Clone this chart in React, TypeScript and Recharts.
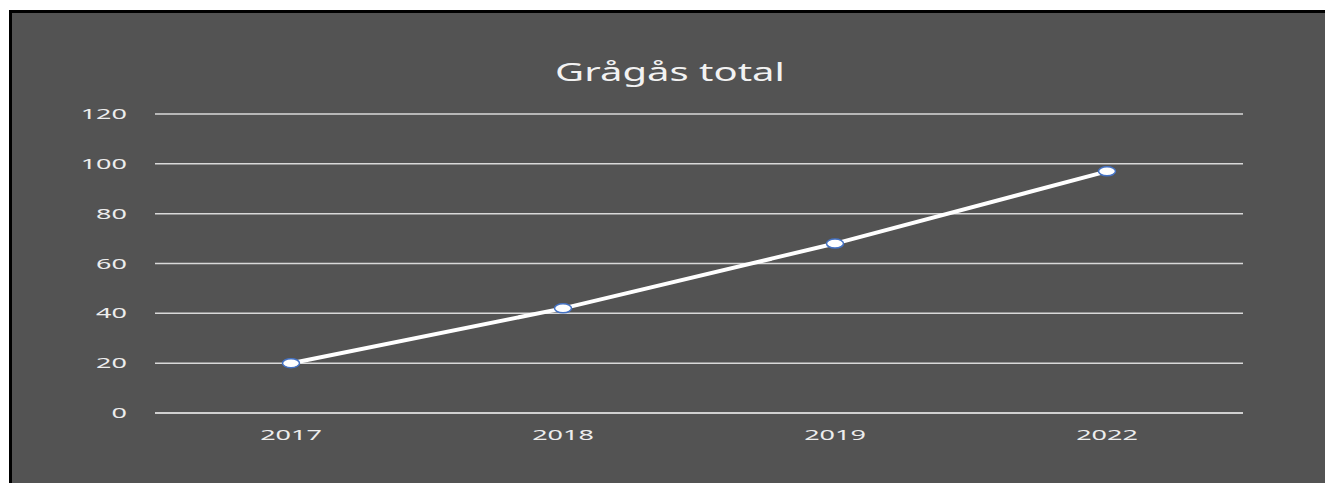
import React from 'react';
import { LineChart, Line, XAxis, YAxis, CartesianGrid } from 'recharts';

const years = ['2017', '2018', '2019', '2022'];
const totals = [20, 42, 68, 97];
const yTicks = [0, 20, 40, 60, 80, 100, 120];

const data = years.map((year, i) => ({ year, total: totals[i] }));

const STRETCH = 1.8;
const FONT = '"Noto Sans", "Open Sans", sans-serif';

const YTick = (props: any) => {
  const { x, y, payload } = props;
  return (
    <text
      transform={`translate(${x - 20},${y + 5}) scale(${STRETCH},1)`}
      textAnchor="end"
      fill="#ededed"
      fontSize={15}
      fontFamily={FONT}
    >
      {payload.value}
    </text>
  );
};

const XTick = (props: any) => {
  const { x, y, payload } = props;
  return (
    <text
      transform={`translate(${x},${y + 19}) scale(${STRETCH},1)`}
      textAnchor="middle"
      fill="#ededed"
      fontSize={15}
      fontFamily={FONT}
    >
      {payload.value}
    </text>
  );
};

const Dot = (props: any) => {
  const { cx, cy } = props;
  if (cx == null || cy == null) return null;
  return <ellipse cx={cx} cy={cy} rx={8.5} ry={4.5} fill="#ffffff" stroke="#4472c4" strokeWidth={1.5} />;
};

export default function App() {
  return (
    <div
      style={{
        position: 'fixed',
        left: 9,
        top: 10,
        right: -20,
        bottom: -20,
        background: '#535353',
        borderLeft: '3px solid #000',
        borderTop: '3px solid #000',
        overflow: 'hidden',
      }}
    >
      <div
        style={{
          position: 'absolute',
          left: 0,
          top: 43,
          width: 1316,
          textAlign: 'center',
          color: '#f2f2f2',
          fontFamily: FONT,
          fontSize: 25,
          transform: `scaleX(1.6)`,
          transformOrigin: '658px 0',
          lineHeight: '30px',
        }}
      >
        Grågås total
      </div>
      <LineChart width={1313} height={470} data={data} margin={{ top: 101, right: 82, bottom: 40, left: 83 }}>
        <CartesianGrid horizontal vertical={false} stroke="#d9d9d9" strokeWidth={1.5} />
        <XAxis
          dataKey="year"
          padding={{ left: 136, right: 136 }}
          axisLine={{ stroke: '#d9d9d9', strokeWidth: 1.5 }}
          tickLine={false}
          tick={<XTick />}
          height={30}
        />
        <YAxis
          domain={[0, 120]}
          ticks={yTicks}
          axisLine={false}
          tickLine={false}
          tick={<YTick />}
          width={60}
        />
        <Line
          type="linear"
          dataKey="total"
          stroke="#ffffff"
          strokeWidth={4}
          dot={<Dot />}
          isAnimationActive={false}
        />
      </LineChart>
    </div>
  );
}
